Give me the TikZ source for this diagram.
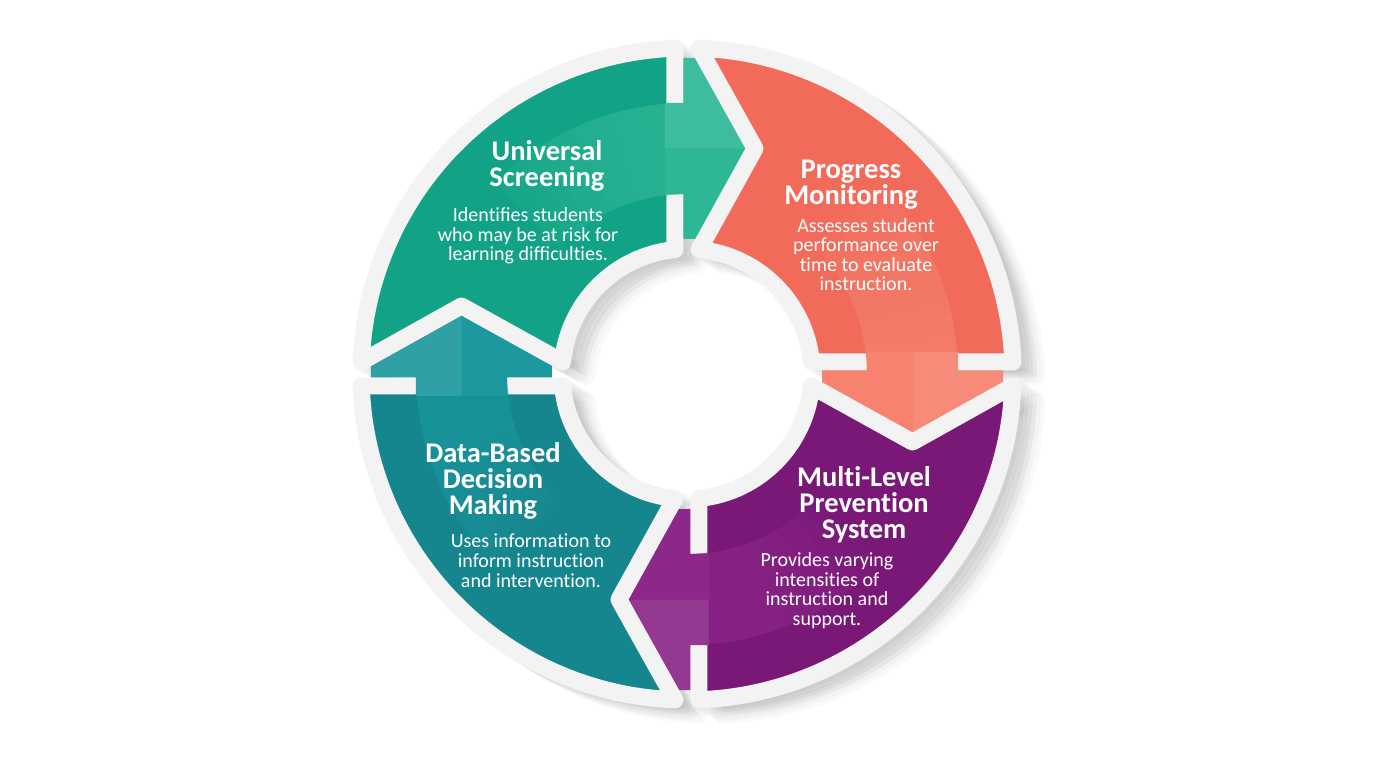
\documentclass[tikz,border=0pt]{standalone}
\usepackage{fontspec}
\setmainfont{Carlito}[RawFeature={-liga}]
\definecolor{cA}{HTML}{12A386}
\definecolor{cAa}{HTML}{2EB797}
\definecolor{cB}{HTML}{F26A5A}
\definecolor{cBa}{HTML}{F7826F}
\definecolor{cC}{HTML}{7A1878}
\definecolor{cCa}{HTML}{8C2889}
\definecolor{cD}{HTML}{16868E}
\definecolor{cDa}{HTML}{1E989F}
\definecolor{rim}{HTML}{F3F3F3}
\begin{document}
\begin{tikzpicture}[x=1pt,y=1pt,
  secpath/.style={insert path={(-12,325.78) -- (-12,124.42) arc[start angle=95.51, end angle=174.49, radius=125] -- (-225.5,68) -- (-325.78,12) arc[start angle=177.89, end angle=92.11, radius=326] -- cycle}},
  arrowpath/.style={insert path={(-22,180) -- (-3.5,180) -- (-3.5,135) -- (8.1,135) -- (58.26,225.5) -- (7.76,316) -- (-3.5,316) -- (-3.5,271) -- (-22,271) -- cycle}},
  hipath/.style={insert path={(-22,225.5) -- (58.26,225.5) -- (7.76,316) -- (-3.5,316) -- (-3.5,271) -- (-22,271) -- cycle}},
  sector/.style={fill=#1, draw=rim, line width=17, line join=round},
  title/.style={font=\bfseries\fontsize{28.5}{26}\selectfont, text=white, align=center, inner sep=0pt, anchor=north},
  body/.style={font=\fontsize{20}{19.6}\selectfont, text=white, align=center, inner sep=0pt, anchor=north}
]
\useasboundingbox (-687,-394) rectangle (689,374);
\fill[white] (-687,-394) rectangle (689,374);
% soft drop shadow
\foreach \k in {1,...,6}{
  \begin{scope}[shift={(4*\k,-2.5*\k)}]
    \foreach \r in {0,-90,-180,-270}{
      \path[rotate=\r, fill=black, draw=black, line width=17, line join=round, fill opacity=0.022, draw opacity=0.022] [secpath];
    }
  \end{scope}
}
% sectors
\begin{scope}[rotate=0]   \path[sector=cA] [secpath]; \end{scope}
\begin{scope}[rotate=-90] \path[sector=cB] [secpath]; \end{scope}
\begin{scope}[rotate=-180]\path[sector=cC] [secpath]; \end{scope}
\begin{scope}[rotate=-270]\path[sector=cD] [secpath]; \end{scope}
% bands and arrows
\foreach \r/\ca in {0/cAa,-90/cBa,-180/cCa,-270/cDa}{
  \begin{scope}[rotate=\r]
    \foreach \k in {1,...,10}{
      \fill[\ca, opacity=0.16] (91:180) arc[start angle=91, end angle=95+4*\k, radius=180] -- (95+4*\k:271) arc[start angle=95+4*\k, end angle=91, radius=271] -- cycle;
    }
    \fill[\ca] [arrowpath];
    \fill[white, opacity=0.08] [hipath];
  \end{scope}
}
% texts
\node[title] (t1) at (-140,234) {Universal\\Screening};
\node[body]  (b1) at (-159,166.3) {Identiﬁes students\\who may be at risk for\\learning difﬁculties.};
\node[title] (t2) at (164,214.4) {Progress\\Monitoring};
\node[body]  (b2) at (179,156) {Assesses student\\performance over\\time to evaluate\\instruction.};
\node[title] (t3) at (177,-92.4) {Multi-Level\\Prevention\\System};
\node[body]  (b3) at (140,-178.7) {Provides varying\\intensities of\\instruction and\\support.};
\node[title] (t4) at (-194,-68.4) {Data-Based\\Decision\\Making};
\node[body]  (b4) at (-156,-160) {Uses information to\\inform instruction\\and intervention.};
\end{tikzpicture}
\end{document}
